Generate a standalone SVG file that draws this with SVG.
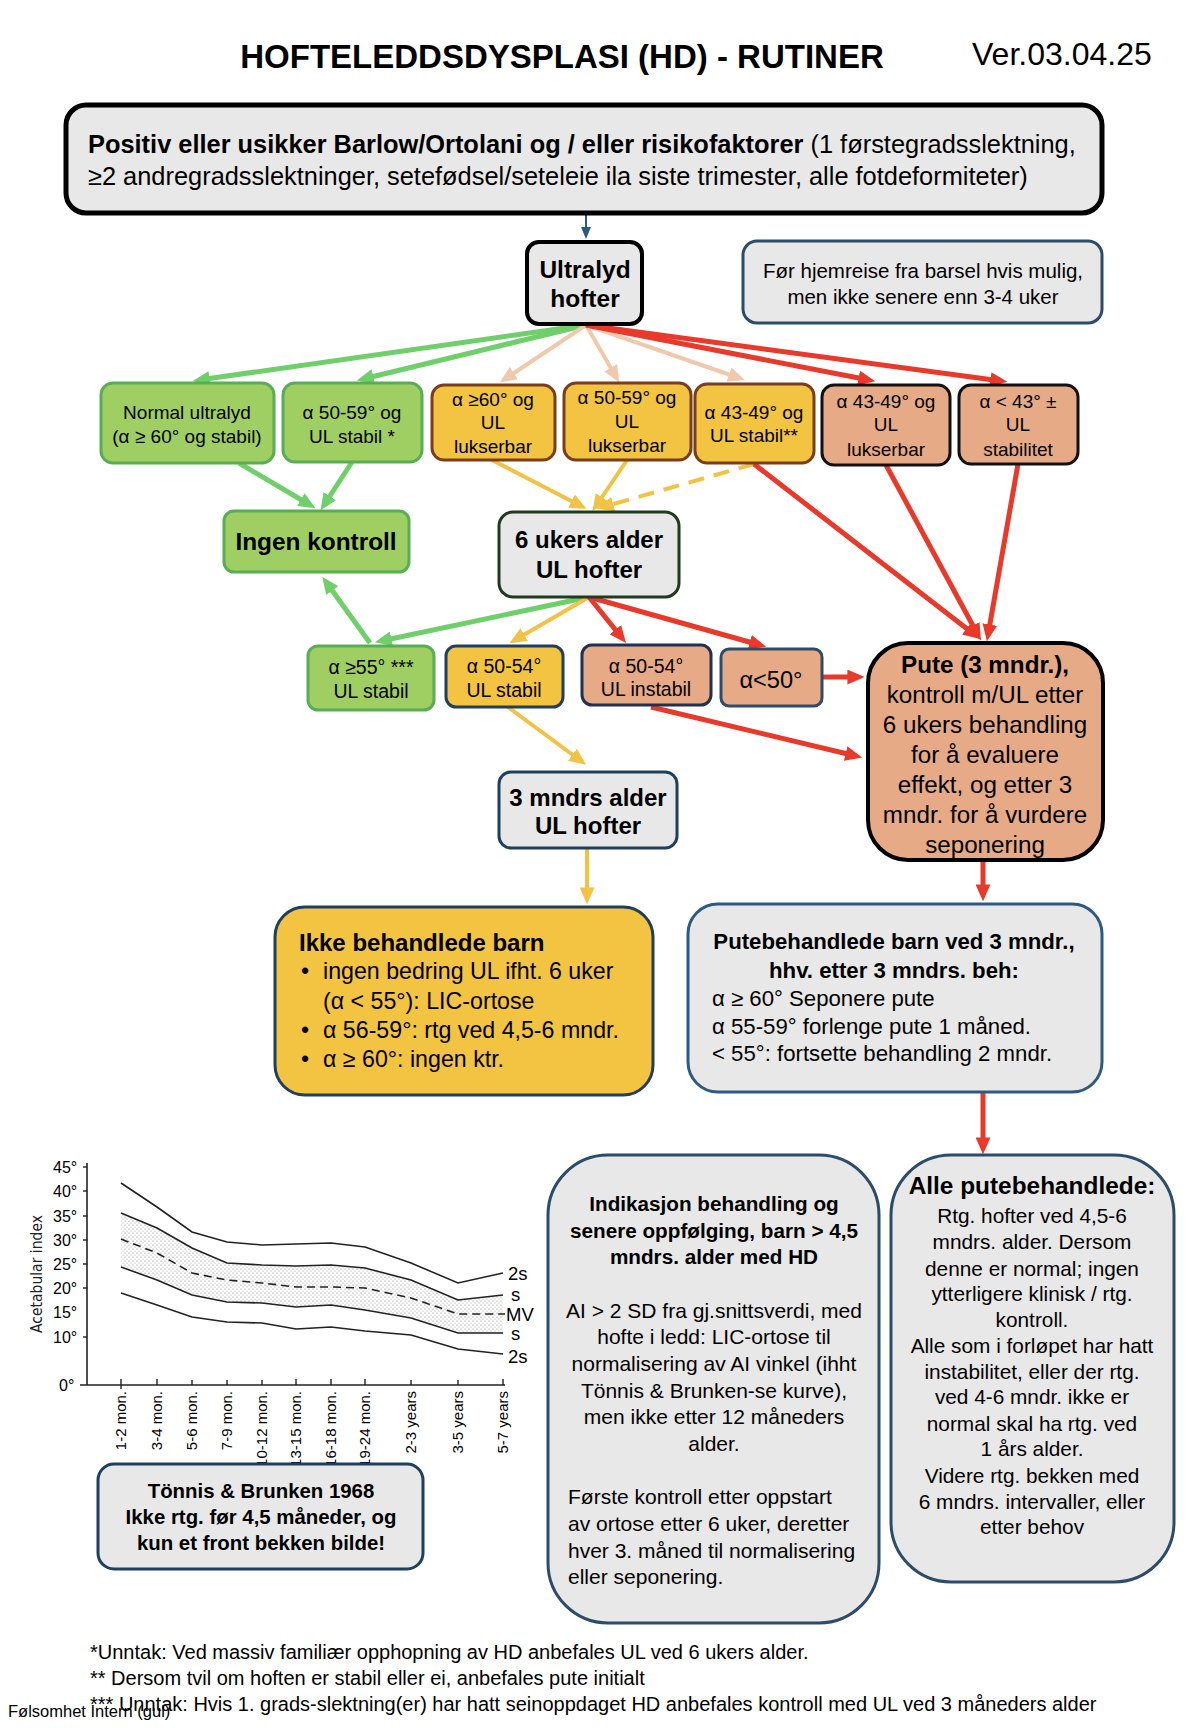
<svg xmlns="http://www.w3.org/2000/svg" width="1198" height="1728" viewBox="0 0 1198 1728">
<defs>
<style>
text{font-family:"Liberation Sans",Arial,sans-serif;fill:#000}
.b{font-weight:bold}
.c{text-anchor:middle}
.gray{fill:#e8e8e8}
.gfill{fill:#9fcf63;stroke:#58ad55;stroke-width:3}
.yfill{fill:#f3c342}
.sfill{fill:#e7aa86}
.f16{font-size:19px}
.f3{font-size:19.5px}
.cg{stroke:#6fcf6a;stroke-width:5;fill:none}
.cr{stroke:#e8392a;stroke-width:5;fill:none}
.cy{stroke:#f2c244;stroke-width:4;fill:none}
.cp{stroke:#f0c9ad;stroke-width:4;fill:none}
.curve{fill:none;stroke:#222;stroke-width:1.6}
.ch{font-family:"DejaVu Sans Condensed","DejaVu Sans",sans-serif;fill:#222}
</style>
<marker id="aG" viewBox="0 0 16 14" refX="10" refY="7" markerWidth="17" markerHeight="15" markerUnits="userSpaceOnUse" orient="auto"><path d="M0,0L16,7L0,14z" fill="#6fcf6a"/></marker>
<marker id="aR" viewBox="0 0 16 14" refX="10" refY="7" markerWidth="17" markerHeight="15" markerUnits="userSpaceOnUse" orient="auto"><path d="M0,0L16,7L0,14z" fill="#e8392a"/></marker>
<marker id="aY" viewBox="0 0 16 14" refX="10" refY="7" markerWidth="17" markerHeight="15" markerUnits="userSpaceOnUse" orient="auto"><path d="M0,0L16,7L0,14z" fill="#f2c244"/></marker>
<marker id="aP" viewBox="0 0 16 14" refX="10" refY="7" markerWidth="17" markerHeight="15" markerUnits="userSpaceOnUse" orient="auto"><path d="M0,0L16,7L0,14z" fill="#f0c9ad"/></marker>
<marker id="aB" viewBox="0 0 12 10" refX="8" refY="5" markerWidth="12" markerHeight="10" markerUnits="userSpaceOnUse" orient="auto"><path d="M0,0L12,5L0,10z" fill="#2d5a80"/></marker>
<pattern id="dots" width="4" height="4" patternUnits="userSpaceOnUse"><circle cx="1" cy="1" r="0.6" fill="#777"/><circle cx="3" cy="3" r="0.6" fill="#999"/></pattern>
</defs>
<rect width="1198" height="1728" fill="#fff"/>

<g id="title">
<text class="b c" x="562" y="68" font-size="33">HOFTELEDDSDYSPLASI (HD) - RUTINER</text>
<text x="972" y="65" font-size="32">Ver.03.04.25</text>
</g>

<g id="connectors">
<line x1="586" y1="214" x2="586" y2="235" stroke="#2d5a80" stroke-width="2" marker-end="url(#aB)"/>
<line class="cg" x1="586" y1="325" x2="199" y2="380" marker-end="url(#aG)"/>
<line class="cg" x1="586" y1="325" x2="363" y2="379" marker-end="url(#aG)"/>
<line class="cp" x1="586" y1="325" x2="505" y2="379" marker-end="url(#aP)"/>
<line class="cp" x1="586" y1="325" x2="616" y2="377" marker-end="url(#aP)"/>
<line class="cp" x1="586" y1="325" x2="739" y2="378" marker-end="url(#aP)"/>
<line class="cr" x1="586" y1="325" x2="869" y2="380" marker-end="url(#aR)"/>
<line class="cr" x1="586" y1="325" x2="1001" y2="381" marker-end="url(#aR)"/>
<line class="cg" x1="239" y1="463" x2="310" y2="505" marker-end="url(#aG)"/>
<line class="cg" x1="352" y1="462" x2="324" y2="505" marker-end="url(#aG)"/>
<line class="cy" x1="492" y1="460" x2="581" y2="506" marker-end="url(#aY)"/>
<line class="cy" x1="627" y1="460" x2="596" y2="506" marker-end="url(#aY)"/>
<line class="cy" x1="754" y1="464" x2="603" y2="507" stroke-width="5" stroke-dasharray="16,10" marker-end="url(#aY)"/>
<line class="cr" x1="754" y1="464" x2="975" y2="635" marker-end="url(#aR)"/>
<line class="cr" x1="886" y1="465" x2="978" y2="635" marker-end="url(#aR)"/>
<line class="cr" x1="1018" y1="464" x2="988" y2="635" marker-end="url(#aR)"/>
<line class="cg" x1="589" y1="597" x2="381" y2="641" marker-end="url(#aG)"/>
<line class="cy" x1="589" y1="597" x2="515" y2="640" marker-end="url(#aY)"/>
<line class="cr" x1="589" y1="597" x2="622" y2="638" marker-end="url(#aR)"/>
<line class="cr" x1="589" y1="597" x2="760" y2="645" marker-end="url(#aR)"/>
<line class="cg" x1="370" y1="643" x2="326" y2="582" marker-end="url(#aG)"/>
<line class="cr" x1="822" y1="677" x2="858" y2="677" marker-end="url(#aR)"/>
<line class="cr" x1="651" y1="707" x2="856" y2="756" marker-end="url(#aR)"/>
<line class="cy" x1="508" y1="707" x2="581" y2="761" marker-end="url(#aY)"/>
<line class="cy" x1="587" y1="848" x2="587" y2="898" stroke-width="3" marker-end="url(#aY)"/>
<line class="cr" x1="983" y1="860" x2="983" y2="895" stroke-width="3" marker-end="url(#aR)"/>
<line class="cr" x1="983" y1="1092" x2="983" y2="1148" stroke-width="3" marker-end="url(#aR)"/>
</g>

<g id="n-top">
<rect x="66" y="105" width="1036" height="108" rx="20" class="gray" stroke="#000" stroke-width="5"/>
<text x="88" y="153" font-size="25.4"><tspan class="b">Positiv eller usikker Barlow/Ortolani og / eller risikofaktorer</tspan> (1 førstegradsslektning,</text>
<text x="88" y="185" font-size="25.4">≥2 andregradsslektninger, setefødsel/seteleie ila siste trimester, alle fotdeformiteter)</text>
</g>

<g id="n-ultralyd">
<rect x="527" y="242" width="115" height="82" rx="12" class="gray" stroke="#000" stroke-width="4"/>
<text class="b c" font-size="24.5" x="585" y="278">Ultralyd</text>
<text class="b c" font-size="24.5" x="585" y="307">hofter</text>
</g>

<g id="n-note">
<rect x="743" y="241" width="359" height="82" rx="14" class="gray" stroke="#2d4c69" stroke-width="3"/>
<text class="c" font-size="20.5" x="923" y="278">Før hjemreise fra barsel hvis mulig,</text>
<text class="c" font-size="20.5" x="923" y="304">men ikke senere enn 3-4 uker</text>
</g>

<g id="n-normal">
<rect x="101" y="383" width="173" height="80" rx="12" class="gfill"/>
<text class="c f16" x="187" y="419">Normal ultralyd</text>
<text class="c f16" x="187" y="443">(α ≥ 60° og stabil)</text>
</g>

<g id="n-a5059stab">
<rect x="283" y="383" width="139" height="79" rx="12" class="gfill"/>
<text class="c f16" x="352" y="419">α 50-59° og</text>
<text class="c f16" x="352" y="443">UL stabil *</text>
</g>

<g id="n-a60luks">
<rect x="432" y="385" width="123" height="75" rx="12" class="yfill" stroke="#7a3e1b" stroke-width="3"/>
<text class="c f16" x="493" y="406">α ≥60° og</text>
<text class="c f16" x="493" y="429">UL</text>
<text class="c f16" x="493" y="453">lukserbar</text>
</g>

<g id="n-a5059luks">
<rect x="564" y="383" width="127" height="77" rx="12" class="yfill" stroke="#7a3e1b" stroke-width="3"/>
<text class="c f16" x="627" y="404">α 50-59° og</text>
<text class="c f16" x="627" y="428">UL</text>
<text class="c f16" x="627" y="452">lukserbar</text>
</g>

<g id="n-a4349stab">
<rect x="695" y="384" width="119" height="79" rx="12" class="yfill" stroke="#7a3e1b" stroke-width="3"/>
<text class="c f16" x="754" y="419">α 43-49° og</text>
<text class="c f16" x="754" y="442">UL stabil**</text>
</g>

<g id="n-a4349luks">
<rect x="822" y="385" width="128" height="80" rx="12" class="sfill" stroke="#111" stroke-width="3"/>
<text class="c f16" x="886" y="408">α 43-49° og</text>
<text class="c f16" x="886" y="431">UL</text>
<text class="c f16" x="886" y="456">lukserbar</text>
</g>

<g id="n-a43">
<rect x="959" y="385" width="119" height="79" rx="12" class="sfill" stroke="#111" stroke-width="3"/>
<text class="c f16" x="1018" y="408">α &lt; 43° ±</text>
<text class="c f16" x="1018" y="431">UL</text>
<text class="c f16" x="1018" y="456">stabilitet</text>
</g>

<g id="n-ingen">
<rect x="224" y="511" width="185" height="61" rx="10" class="gfill"/>
<text class="b c" font-size="24.4" x="316" y="550">Ingen kontroll</text>
</g>

<g id="n-6uker">
<rect x="499" y="512" width="180" height="85" rx="14" class="gray" stroke="#1f3a20" stroke-width="3"/>
<text class="b c" font-size="24" x="589" y="548">6 ukers alder</text>
<text class="b c" font-size="24" x="589" y="578">UL hofter</text>
</g>

<g id="n-a55">
<rect x="308" y="646" width="126" height="64" rx="10" class="gfill"/>
<text class="c f3" x="371" y="674">α ≥55° ***</text>
<text class="c f3" x="371" y="698">UL stabil</text>
</g>

<g id="n-a5054stab">
<rect x="446" y="646" width="117" height="61" rx="10" class="yfill" stroke="#1f3f5f" stroke-width="3"/>
<text class="c f3" x="504" y="673">α 50-54°</text>
<text class="c f3" x="504" y="697">UL stabil</text>
</g>

<g id="n-a5054inst">
<rect x="582" y="645" width="129" height="60" rx="10" class="sfill" stroke="#1f3050" stroke-width="3"/>
<text class="c f3" x="646" y="673">α 50-54°</text>
<text class="c f3" x="646" y="696">UL instabil</text>
</g>

<g id="n-a50">
<rect x="721" y="649" width="101" height="57" rx="8" class="sfill" stroke="#2e4c6a" stroke-width="3"/>
<text class="c" font-size="23.6" x="771" y="688">α&lt;50°</text>
</g>

<g id="n-pute">
<rect x="868" y="643" width="235" height="217" rx="40" class="sfill" stroke="#000" stroke-width="4"/>
<text class="b c" font-size="24.2" x="985" y="673">Pute (3 mndr.),</text>
<g class="c" font-size="24.2">
<text x="985" y="703">kontroll m/UL etter</text>
<text x="985" y="733">6 ukers behandling</text>
<text x="985" y="763">for å evaluere</text>
<text x="985" y="793">effekt, og etter 3</text>
<text x="985" y="823">mndr. for å vurdere</text>
<text x="985" y="853">seponering</text>
</g>
</g>

<g id="n-3mndrs">
<rect x="499" y="772" width="178" height="76" rx="12" class="gray" stroke="#1f3f5f" stroke-width="3"/>
<text class="b c" font-size="24" x="588" y="806">3 mndrs alder</text>
<text class="b c" font-size="24" x="588" y="834">UL hofter</text>
</g>

<g id="n-ikke">
<rect x="275" y="907" width="378" height="188" rx="30" class="yfill" stroke="#1f3f5f" stroke-width="3"/>
<text class="b" font-size="24" x="299" y="951">Ikke behandlede barn</text>
<g font-size="23.2">
<text x="301" y="979">•</text>
<text x="323" y="979">ingen bedring UL ifht. 6 uker</text>
<text x="323" y="1009">(α &lt; 55°): LIC-ortose</text>
<text x="301" y="1038">•</text>
<text x="323" y="1038">α 56-59°: rtg ved 4,5-6 mndr.</text>
<text x="301" y="1067">•</text>
<text x="323" y="1067">α ≥ 60°: ingen ktr.</text>
</g>
</g>

<g id="n-putebeh">
<rect x="688" y="904" width="414" height="188" rx="30" class="gray" stroke="#2d5a80" stroke-width="3"/>
<text class="b c" font-size="22.2" x="894" y="949">Putebehandlede barn ved 3 mndr.,</text>
<text class="b c" font-size="22.2" x="894" y="978">hhv. etter 3 mndrs. beh:</text>
<g font-size="22.2">
<text x="712" y="1006">α ≥ 60° Seponere pute</text>
<text x="712" y="1034">α 55-59° forlenge pute 1 måned.</text>
<text x="712" y="1061">&lt; 55°: fortsette behandling 2 mndr.</text>
</g>
</g>

<g id="chart">
<polygon fill="url(#dots)" points="121,1213 157,1228 192,1248 227,1263 262,1265 296,1266 331,1265 365,1268 411,1280 458,1300 503,1295 503,1333 458,1333 411,1318 365,1310 331,1305 296,1307 262,1303 227,1302 192,1295 157,1280 121,1267"/>
<line x1="87" y1="1163" x2="87" y2="1385" stroke="#222" stroke-width="1.6"/>
<line x1="80" y1="1385" x2="505" y2="1385" stroke="#222" stroke-width="1.6"/>
<g stroke="#222" stroke-width="1.4">
<line x1="83" y1="1167" x2="87" y2="1167"/><line x1="83" y1="1191" x2="87" y2="1191"/><line x1="83" y1="1216" x2="87" y2="1216"/><line x1="83" y1="1240" x2="87" y2="1240"/><line x1="83" y1="1264" x2="87" y2="1264"/><line x1="83" y1="1288" x2="87" y2="1288"/><line x1="83" y1="1337" x2="87" y2="1337"/>
<line x1="121" y1="1379" x2="121" y2="1389"/><line x1="157" y1="1379" x2="157" y2="1385"/><line x1="192" y1="1380" x2="192" y2="1385"/><line x1="227" y1="1380" x2="227" y2="1385"/><line x1="262" y1="1380" x2="262" y2="1385"/><line x1="296" y1="1379" x2="296" y2="1385"/><line x1="331" y1="1379" x2="331" y2="1385"/><line x1="365" y1="1379" x2="365" y2="1385"/><line x1="411" y1="1380" x2="411" y2="1385"/><line x1="458" y1="1380" x2="458" y2="1385"/><line x1="503" y1="1379" x2="503" y2="1385"/>
</g>
<polyline class="curve" points="121,1183 157,1207 192,1232 227,1242 262,1245 296,1244 331,1243 365,1247 411,1263 458,1283 503,1273"/>
<polyline class="curve" stroke-width="2.2" points="121,1213 157,1228 192,1248 227,1263 262,1265 296,1266 331,1265 365,1268 411,1280 458,1300 503,1295"/>
<polyline class="curve" stroke-width="2" stroke-dasharray="8,5" points="121,1239 157,1253 192,1273 227,1280 262,1283 296,1287 331,1287 365,1288 411,1298 458,1314 505,1314"/>
<polyline class="curve" stroke-width="2.2" points="121,1267 157,1280 192,1295 227,1302 262,1303 296,1307 331,1305 365,1310 411,1318 458,1333 503,1333"/>
<polyline class="curve" points="121,1293 157,1305 192,1317 227,1322 262,1323 296,1329 331,1327 365,1331 411,1335 458,1349 503,1354"/>
<g class="ch" font-size="16">
<text x="53" y="1173">45°</text>
<text x="53" y="1197">40°</text>
<text x="53" y="1222">35°</text>
<text x="53" y="1246">30°</text>
<text x="53" y="1270">25°</text>
<text x="53" y="1294">20°</text>
<text x="53" y="1318">15°</text>
<text x="53" y="1343">10°</text>
<text x="59" y="1391">0°</text>
</g>
<g class="ch" font-size="18.5">
<text x="508" y="1280">2s</text>
<text x="511" y="1301">s</text>
<text x="506" y="1321">MV</text>
<text x="511" y="1340">s</text>
<text x="508" y="1363">2s</text>
</g>
<text class="ch" font-size="15.5" text-anchor="middle" transform="translate(42,1274) rotate(-90)">Acetabular index</text>
<g class="ch" font-size="15" text-anchor="end">
<text transform="translate(126,1391) rotate(-90)">1-2 mon.</text>
<text transform="translate(162,1391) rotate(-90)">3-4 mon.</text>
<text transform="translate(197,1391) rotate(-90)">5-6 mon.</text>
<text transform="translate(232,1391) rotate(-90)">7-9 mon.</text>
<text transform="translate(267,1391) rotate(-90)">10-12 mon.</text>
<text transform="translate(301,1391) rotate(-90)">13-15 mon.</text>
<text transform="translate(336,1391) rotate(-90)">16-18 mon.</text>
<text transform="translate(370,1391) rotate(-90)">19-24 mon.</text>
<text transform="translate(416,1391) rotate(-90)">2-3 years</text>
<text transform="translate(463,1391) rotate(-90)">3-5 years</text>
<text transform="translate(508,1391) rotate(-90)">5-7 years</text>
</g>
</g>

<g id="n-tonnis">
<rect x="98" y="1464" width="325" height="105" rx="16" class="gray" stroke="#1f3f5f" stroke-width="3"/>
<g class="b c" font-size="20.4">
<text x="261" y="1498">Tönnis &amp; Brunken 1968</text>
<text x="261" y="1524">Ikke rtg. før 4,5 måneder, og</text>
<text x="261" y="1550">kun et front bekken bilde!</text>
</g>
</g>

<g id="n-indikasjon">
<rect x="548" y="1155" width="331" height="468" rx="60" class="gray" stroke="#2d4c69" stroke-width="3"/>
<g class="b c" font-size="20.7">
<text x="714" y="1211">Indikasjon behandling og</text>
<text x="714" y="1238">senere oppfølging, barn &gt; 4,5</text>
<text x="714" y="1264">mndrs. alder  med HD</text>
</g>
<g class="c" font-size="21">
<text x="714" y="1318">AI &gt; 2 SD fra gj.snittsverdi, med</text>
<text x="714" y="1344">hofte i ledd: LIC-ortose til</text>
<text x="714" y="1371">normalisering av AI vinkel (ihht</text>
<text x="714" y="1398">Tönnis &amp; Brunken-se kurve),</text>
<text x="714" y="1424">men ikke etter 12 måneders</text>
<text x="714" y="1451">alder.</text>
</g>
<g font-size="21">
<text x="568" y="1504">Første kontroll etter oppstart</text>
<text x="568" y="1531">av ortose etter 6 uker, deretter</text>
<text x="568" y="1558">hver 3. måned til normalisering</text>
<text x="568" y="1584">eller seponering.</text>
</g>
</g>

<g id="n-alle">
<rect x="891" y="1155" width="283" height="427" rx="60" class="gray" stroke="#2d4c69" stroke-width="3"/>
<text class="b c" font-size="24.4" x="1032" y="1194">Alle putebehandlede:</text>
<g class="c" font-size="20.8">
<text x="1032" y="1223">Rtg. hofter ved 4,5-6</text>
<text x="1032" y="1249">mndrs. alder. Dersom</text>
<text x="1032" y="1276">denne er normal; ingen</text>
<text x="1032" y="1301">ytterligere klinisk / rtg.</text>
<text x="1032" y="1327">kontroll.</text>
<text x="1032" y="1353">Alle som i forløpet har hatt</text>
<text x="1032" y="1379">instabilitet, eller der rtg.</text>
<text x="1032" y="1404">ved 4-6 mndr. ikke er</text>
<text x="1032" y="1431">normal skal ha rtg. ved</text>
<text x="1032" y="1456">1 års alder.</text>
<text x="1032" y="1483">Videre rtg. bekken med</text>
<text x="1032" y="1509">6 mndrs. intervaller, eller</text>
<text x="1032" y="1534">etter behov</text>
</g>
</g>

<g id="footer">
<g font-size="20">
<text x="90" y="1659">*Unntak: Ved massiv familiær opphopning av HD anbefales UL ved 6 ukers alder.</text>
<text x="90" y="1685">** Dersom tvil om hoften er stabil eller ei, anbefales pute initialt</text>
<text x="90" y="1711">*** Unntak: Hvis 1. grads-slektning(er) har hatt seinoppdaget HD anbefales kontroll med UL ved 3 måneders alder</text>
</g>
<text x="8" y="1717" font-size="16.5">Følsomhet Intern (gul)</text>
</g>
</svg>
